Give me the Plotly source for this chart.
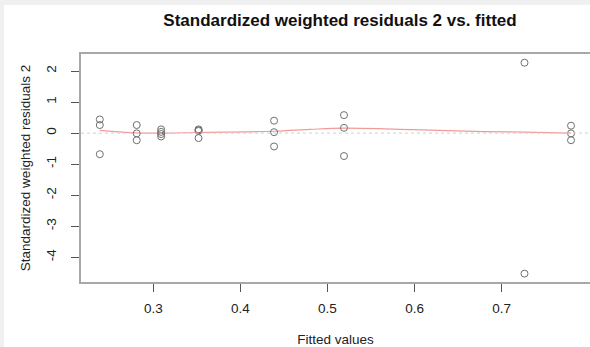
import plotly.graph_objects as go

# fitted values and standardized weighted residuals
fitted = [0.2386, 0.2386, 0.2386,
          0.281, 0.281, 0.281,
          0.309, 0.309, 0.309, 0.309,
          0.352, 0.352, 0.352, 0.352,
          0.4387, 0.4387, 0.4387,
          0.519, 0.519, 0.519,
          0.7263, 0.7263,
          0.7797, 0.7797, 0.7797]
residuals = [0.44, 0.26, -0.68,
             0.26, -0.01, -0.23,
             0.12, 0.04, -0.03, -0.11,
             0.12, 0.09, 0.07, -0.16,
             0.40, 0.03, -0.43,
             0.58, 0.17, -0.74,
             2.27, -4.53,
             0.24, -0.01, -0.23]

# loess smooth line
smooth_x = [0.2386, 0.281, 0.309, 0.352, 0.4387, 0.48, 0.519, 0.60, 0.68, 0.7263, 0.7797]
smooth_y = [0.09, 0.01, 0.0, 0.02, 0.06, 0.12, 0.16, 0.11, 0.05, 0.03, 0.0]

x_ticks = [0.3, 0.4, 0.5, 0.6, 0.7]
y_ticks = [-4, -3, -2, -1, 0, 1, 2]

W, H = 590, 347
L, R, T, B = 81, 0, 54, 65
pw, ph = W - L - R, H - T - B

def px_x(p):
    return (p - L) / pw

def px_y(p):
    return (H - B - p) / ph

fig = go.Figure()

# dotted zero line
fig.add_hline(y=0, line=dict(color="#d0d0d0", width=1, dash="dot"))

fig.add_trace(go.Scatter(
    x=smooth_x, y=smooth_y, mode="lines",
    line=dict(color="#f29a9a", width=1.2, shape="spline"), hoverinfo="skip"
))

fig.add_trace(go.Scatter(
    x=fitted, y=residuals, mode="markers",
    marker=dict(symbol="circle-open", size=7, color="#707070", line=dict(width=1))
))

# light grey window strips (top and left)
fig.add_shape(type="rect", xref="paper", yref="paper",
              x0=px_x(0), x1=px_x(W), y0=px_y(0), y1=px_y(5),
              fillcolor="#f0f0f0", line_width=0, layer="below")
fig.add_shape(type="rect", xref="paper", yref="paper",
              x0=px_x(0), x1=px_x(4), y0=px_y(0), y1=px_y(H),
              fillcolor="#f0f0f0", line_width=0, layer="below")

font = "Liberation Sans, Arial, sans-serif"

fig.update_layout(
    width=W, height=H,
    margin=dict(l=L, r=R, t=T, b=B, autoexpand=False),
    plot_bgcolor="white", paper_bgcolor="white",
    showlegend=False,
    font=dict(family=font, size=12, color="#222222"),
    title=dict(text="<b>Standardized weighted residuals 2 vs. fitted</b>",
               x=340 / W, xanchor="center", y=1 - 20 / H, yanchor="middle",
               font=dict(size=17, color="#111111")),
    xaxis=dict(
        range=[0.217, 0.8015], tickvals=x_ticks, ticktext=[str(v) for v in x_ticks],
        showgrid=False, zeroline=False,
        showline=True, linecolor="#a8a8a8", linewidth=1.5, mirror=True,
        ticks="outside", ticklen=8, tickcolor="#555555", tickwidth=1,
        ticklabelstandoff=5,
        title=dict(text="Fitted values", standoff=22, font=dict(size=13.5)),
        tickfont=dict(size=13.5),
    ),
    yaxis=dict(
        range=[-4.80, 2.55], tickvals=y_ticks, ticktext=[str(v) for v in y_ticks],
        showgrid=False, zeroline=False,
        showline=True, linecolor="#a8a8a8", linewidth=1.5,
        ticks="outside", ticklen=8, tickcolor="#555555", tickwidth=1,
        tickangle=-90, ticklabelstandoff=10,
        title=dict(text="Standardized weighted residuals 2", standoff=10, font=dict(size=13.5)),
        tickfont=dict(size=13.5),
    ),
)

fig.write_html("out.html", config={"displayModeBar": False},
               post_script="document.body.style.margin='0';document.body.style.overflow='hidden';")
